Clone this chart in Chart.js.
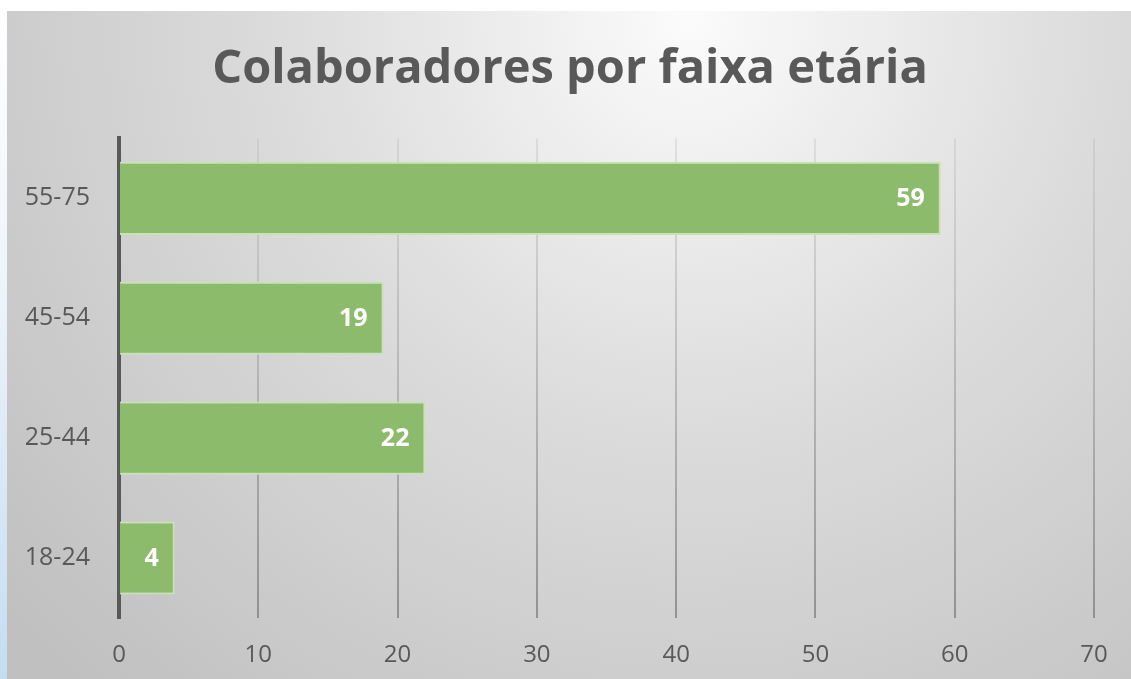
<!DOCTYPE html>
<html>
<head>
<meta charset="utf-8">
<script src="https://cdn.jsdelivr.net/npm/chart.js@4.4.1/dist/chart.umd.min.js"></script>
<style>
  html, body { margin: 0; padding: 0; background: #fff; }
  #wrap { width: 1131px; height: 679px; position: relative; }
</style>
</head>
<body>
<div id="wrap"><canvas id="ageChart"></canvas></div>
<script>
// Colaboradores por faixa etária
const ageGroups = ['55-75', '45-54', '25-44', '18-24'];
const headcount = [59, 19, 22, 4];
const xTicks = [0, 10, 20, 30, 40, 50, 60, 70];

const textGray = '#595959';

// panel background: white frame, light blue strip at left, radial grey gradient
const backgroundPlugin = {
    id: 'panelBg',
    afterLayout(chart) {
        // title sits a little right of the canvas centre in the original
        if (chart.titleBlock) chart.titleBlock.left = 46;
    },
    beforeDraw(chart) {
        const ctx = chart.ctx;
        const w = chart.width, h = chart.height;
        ctx.save();
        ctx.fillStyle = '#ffffff';
        ctx.fillRect(0, 0, w, h);
        const strip = ctx.createLinearGradient(0, 0, 0, h);
        strip.addColorStop(0, '#ffffff');
        strip.addColorStop(0.4, '#eef5fb');
        strip.addColorStop(1, '#c4ddf1');
        ctx.fillStyle = strip;
        ctx.fillRect(0, 11, 7, h - 11);
        const bg = ctx.createRadialGradient(690, 20, 0, 690, 20, 900);
        bg.addColorStop(0, '#fbfbfb');
        bg.addColorStop(0.45, '#dcdcdc');
        bg.addColorStop(1, '#c0c0c0');
        ctx.fillStyle = bg;
        ctx.fillRect(7, 11, w - 7, h - 11);
        ctx.restore();
    }
};

// white value labels at the inner end of each bar
const valueLabels = {
    id: 'valueLabels',
    afterDatasetsDraw(chart) {
        const ctx = chart.ctx;
        const meta = chart.getDatasetMeta(0);
        ctx.save();
        ctx.font = 'bold 25px "Open Sans"';
        ctx.fillStyle = '#ffffff';
        ctx.textAlign = 'right';
        ctx.textBaseline = 'middle';
        meta.data.forEach((bar, i) => {
            ctx.fillText(String(headcount[i]), bar.x - 16, bar.y + 1);
        });
        ctx.restore();
    }
};

const ctx = document.getElementById('ageChart');
new Chart(ctx.getContext('2d'), {
    type: 'bar',
    data: {
        labels: ageGroups,
        datasets: [{
            label: 'Colaboradores',
            data: headcount,
            backgroundColor: '#8cbb6c',
            borderColor: '#c8e2b6',
            borderWidth: 2,
            borderSkipped: 'start',
            barPercentage: 0.61,
            categoryPercentage: 1
        }]
    },
    options: {
        indexAxis: 'y',
        responsive: true,
        maintainAspectRatio: false,
        animation: false,
        layout: { padding: { left: 0, right: 37, top: 0, bottom: 0 } },
        plugins: {
            legend: { display: false },
            tooltip: { enabled: false },
            title: {
                display: true,
                text: 'Colaboradores por faixa etária',
                color: textGray,
                font: { family: '"Open Sans"', size: 47, weight: 'bold', lineHeight: 1.2 },
                padding: { top: 41, bottom: 41 }
            }
        },
        scales: {
            x: {
                min: 0,
                max: 70,
                afterBuildTicks(scale) {
                    scale.ticks = xTicks.map(v => ({ value: v }));
                },
                afterFit(scale) { scale.height = 61; },
                border: { display: false },
                grid: {
                    drawTicks: false,
                    lineWidth: 2,
                    color(c) {
                        const area = c.chart.chartArea;
                        if (!area) return '#aaaaaa';
                        const g = c.chart.ctx.createLinearGradient(0, area.top, 0, area.bottom);
                        g.addColorStop(0, 'rgba(170,170,170,0.25)');
                        g.addColorStop(1, 'rgba(120,120,120,0.7)');
                        return g;
                    }
                },
                ticks: {
                    padding: 23,
                    color: textGray,
                    font: { family: '"Open Sans"', size: 24 }
                }
            },
            y: {
                afterFit(scale) { scale.width = 119; },
                border: { display: true, color: textGray, width: 4 },
                grid: { display: false, drawTicks: false },
                ticks: {
                    padding: 29,
                    color: textGray,
                    font: { family: '"Open Sans"', size: 25 }
                }
            }
        }
    },
    plugins: [backgroundPlugin, valueLabels]
});
</script>
</body>
</html>
